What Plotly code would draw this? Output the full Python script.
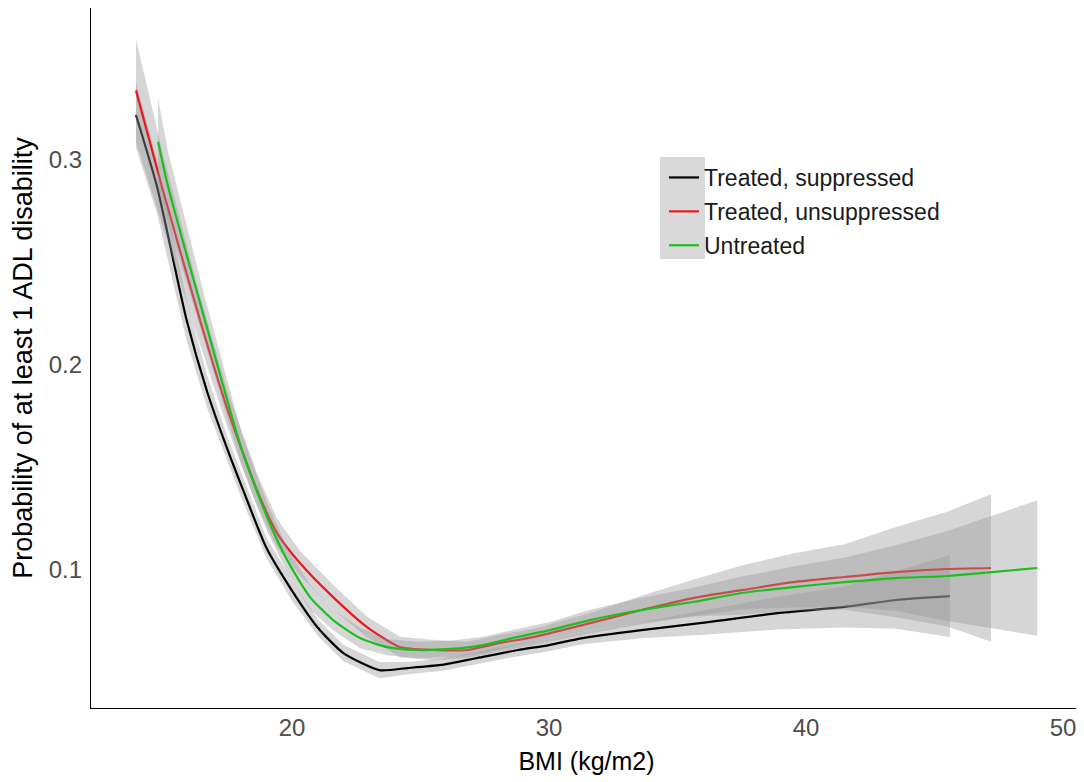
import plotly.graph_objects as go

# ---- data ----
series_names = ["Treated, suppressed", "Treated, unsuppressed", "Untreated"]

bmi_suppressed = [13.93, 14.75, 15.9, 16.7, 17.5, 18.1, 19.0, 20.0, 21.0, 22.0, 23.4, 24.5,
                  25.8, 27.2, 28.8, 30.0, 31.3, 33.6, 36.2, 38.9, 41.5, 43.5, 45.6]
prob_suppressed = [0.322, 0.287, 0.222, 0.187, 0.1585, 0.139, 0.111, 0.090, 0.072, 0.0595,
                   0.0512, 0.0522, 0.0537, 0.0571, 0.061, 0.0634, 0.0668, 0.0707, 0.0746,
                   0.079, 0.082, 0.0854, 0.0873]
ci_suppressed = [0.016, 0.013, 0.010, 0.008, 0.006, 0.006, 0.005, 0.005, 0.004, 0.004,
                 0.004, 0.003, 0.003, 0.003, 0.003, 0.003, 0.003, 0.004, 0.006, 0.008,
                 0.010, 0.014, 0.020]

bmi_unsuppressed = [13.93, 14.94, 16.42, 17.5, 18.64, 19.42, 20.31, 21.6, 22.92, 24.2, 25.49,
                    26.81, 28.09, 29.38, 31.6, 33.6, 35.6, 37.5, 39.5, 41.5, 43.5, 45.5, 47.2]
prob_unsuppressed = [0.334, 0.287, 0.222, 0.178, 0.139, 0.118, 0.1034, 0.0868, 0.0722, 0.0624,
                     0.061, 0.061, 0.0644, 0.0673, 0.0741, 0.0805, 0.0863, 0.0902, 0.0941,
                     0.0966, 0.099, 0.1005, 0.101]
ci_unsuppressed = [0.025, 0.018, 0.012, 0.009, 0.008, 0.007, 0.006, 0.006, 0.005, 0.005,
                   0.005, 0.004, 0.004, 0.004, 0.005, 0.007, 0.009, 0.012, 0.014, 0.016,
                   0.022, 0.028, 0.036]

bmi_untreated = [14.79, 15.18, 16.61, 18.05, 19.03, 19.81, 20.7, 21.6, 22.65, 23.7, 24.86,
                 26.15, 27.43, 28.75, 30.04, 31.6, 33.6, 35.6, 37.5, 39.5, 41.5, 43.5, 45.5,
                 46.8, 49.0]
prob_untreated = [0.309, 0.287, 0.222, 0.1585, 0.1259, 0.1049, 0.0868, 0.0756, 0.0668, 0.0624,
                  0.061, 0.0615, 0.0634, 0.0673, 0.0707, 0.0756, 0.0805, 0.0844, 0.0888,
                  0.0917, 0.0941, 0.0961, 0.0971, 0.0985, 0.101]
ci_untreated = [0.021, 0.017, 0.011, 0.008, 0.007, 0.006, 0.006, 0.005, 0.005, 0.004, 0.004,
                0.004, 0.004, 0.004, 0.004, 0.005, 0.006, 0.007, 0.008, 0.010, 0.012, 0.016,
                0.022, 0.026, 0.033]

line_colors = ["#000000", "#E8191C", "#1DBE1D"]

x_ticks = [20, 30, 40, 50]
y_ticks = [0.1, 0.2, 0.3]

FONT = "Liberation Sans, Arial, sans-serif"

# the page body has an ~8px margin; size the figure so the plot lands where the reference has it
PAGE_OFF = 8
W, H = 1084 - PAGE_OFF, 782 - PAGE_OFF
PLOT_L, PLOT_R, PLOT_T, PLOT_B = 91, 1082, 8, 708  # target plot box in screen pixels
PW, PH = PLOT_R - PLOT_L, PLOT_B - PLOT_T

fig = go.Figure()

groups = [
    (bmi_suppressed, prob_suppressed, ci_suppressed),
    (bmi_unsuppressed, prob_unsuppressed, ci_unsuppressed),
    (bmi_untreated, prob_untreated, ci_untreated),
]

for name, color, (xs, ys, ci) in zip(series_names, line_colors, groups):
    upper = [y + c for y, c in zip(ys, ci)]
    lower = [y - c for y, c in zip(ys, ci)]
    fig.add_trace(go.Scatter(
        x=list(xs) + list(xs)[::-1],
        y=upper + lower[::-1],
        fill="toself",
        fillcolor="rgba(153,153,153,0.4)",
        line=dict(width=0),
        mode="lines",
        hoverinfo="skip",
        showlegend=False,
        legendgroup=name,
    ))
    fig.add_trace(go.Scatter(
        x=xs, y=ys, mode="lines", name=name,
        line=dict(color=color, width=2.2, shape="spline", smoothing=0.6),
        legendgroup=name,
    ))

# grey key background of the legend (like ggplot's smooth key)
fig.add_shape(type="rect", xref="paper", yref="paper",
              x0=(660 - PLOT_L) / PW, x1=(705 - PLOT_L) / PW,
              y0=(PLOT_B - 259) / PH, y1=(PLOT_B - 157) / PH,
              fillcolor="#D9D9D9", line=dict(width=0), layer="above")

fig.update_layout(
    width=W, height=H,
    margin=dict(l=PLOT_L - PAGE_OFF, r=1084 - PLOT_R, t=PLOT_T - PAGE_OFF, b=782 - PLOT_B),
    paper_bgcolor="white", plot_bgcolor="white",
    font=dict(family=FONT, color="#000000"),
    showlegend=True,
    legend=dict(
        x=(664 - PLOT_L) / PW, y=(PLOT_B - 156) / PH, xanchor="left", yanchor="top",
        bgcolor="rgba(0,0,0,0)",
        font=dict(family=FONT, size=23, color="#1A1A1A"),
        traceorder="grouped", tracegroupgap=1,
        itemwidth=30,
    ),
    xaxis=dict(
        range=[12.18, 50.74], automargin=False,
        tickvals=x_ticks, ticktext=[str(v) for v in x_ticks],
        showgrid=False, zeroline=False,
        showline=True, linecolor="#000000", linewidth=1.3,
        ticks="", ticklabelstandoff=-2,
        tickfont=dict(family=FONT, size=24, color="#4D4D4D"),
        title=dict(text="BMI (kg/m2)", font=dict(family=FONT, size=25, color="#000000"),
                   standoff=12),
    ),
    yaxis=dict(
        range=[0.0327, 0.3742], automargin=False,
        tickvals=y_ticks, ticktext=[str(v) for v in y_ticks],
        showgrid=False, zeroline=False,
        showline=True, linecolor="#000000", linewidth=1.3,
        ticks="outside", ticklen=3, tickcolor="rgba(0,0,0,0)",
        tickfont=dict(family=FONT, size=24, color="#4D4D4D"),
        title=dict(text="Probability of at least 1 ADL disability",
                   font=dict(family=FONT, size=27, color="#000000"), standoff=8),
    ),
)

fig.write_html("out.html")
